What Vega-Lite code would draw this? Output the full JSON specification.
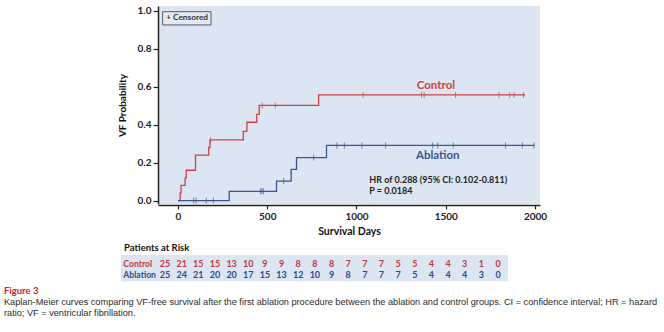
{
  "$schema": "https://vega.github.io/schema/vega-lite/v6.json",
  "padding": {"left": 3, "top": 5, "right": 0, "bottom": 0},
  "width": 382,
  "height": 198,
  "config": {"view": {"fill": "#dce6f2", "stroke": null}, "font": "Lato", "axis": {"labelOverlap": false, "labelFlush": false}},
  "datasets": {
    "km": [
      {"group": "Control", "day": 0, "p": 0},
      {"group": "Control", "day": 12, "p": 0.04},
      {"group": "Control", "day": 17, "p": 0.08},
      {"group": "Control", "day": 40, "p": 0.12},
      {"group": "Control", "day": 46, "p": 0.16},
      {"group": "Control", "day": 98, "p": 0.24},
      {"group": "Control", "day": 172, "p": 0.28},
      {"group": "Control", "day": 179, "p": 0.32},
      {"group": "Control", "day": 366, "p": 0.365},
      {"group": "Control", "day": 386, "p": 0.413},
      {"group": "Control", "day": 441, "p": 0.455},
      {"group": "Control", "day": 455, "p": 0.502},
      {"group": "Control", "day": 788, "p": 0.557},
      {"group": "Control", "day": 1945, "p": 0.557},
      {"group": "Ablation", "day": 0, "p": 0},
      {"group": "Ablation", "day": 287, "p": 0.049},
      {"group": "Ablation", "day": 552, "p": 0.103},
      {"group": "Ablation", "day": 634, "p": 0.165},
      {"group": "Ablation", "day": 664, "p": 0.227},
      {"group": "Ablation", "day": 832, "p": 0.291},
      {"group": "Ablation", "day": 1997, "p": 0.291}
    ],
    "censor": [
      {"group": "Control", "day": 183, "p": 0.32},
      {"group": "Control", "day": 472, "p": 0.502},
      {"group": "Control", "day": 545, "p": 0.502},
      {"group": "Control", "day": 1037, "p": 0.557},
      {"group": "Control", "day": 1364, "p": 0.557},
      {"group": "Control", "day": 1379, "p": 0.557},
      {"group": "Control", "day": 1555, "p": 0.557},
      {"group": "Control", "day": 1798, "p": 0.557},
      {"group": "Control", "day": 1858, "p": 0.557},
      {"group": "Control", "day": 1883, "p": 0.557},
      {"group": "Control", "day": 1935, "p": 0.557},
      {"group": "Ablation", "day": 88, "p": 0},
      {"group": "Ablation", "day": 101, "p": 0},
      {"group": "Ablation", "day": 158, "p": 0},
      {"group": "Ablation", "day": 198, "p": 0},
      {"group": "Ablation", "day": 462, "p": 0.049},
      {"group": "Ablation", "day": 470, "p": 0.049},
      {"group": "Ablation", "day": 478, "p": 0.049},
      {"group": "Ablation", "day": 592, "p": 0.103},
      {"group": "Ablation", "day": 760, "p": 0.227},
      {"group": "Ablation", "day": 890, "p": 0.291},
      {"group": "Ablation", "day": 932, "p": 0.291},
      {"group": "Ablation", "day": 1030, "p": 0.291},
      {"group": "Ablation", "day": 1163, "p": 0.291},
      {"group": "Ablation", "day": 1427, "p": 0.291},
      {"group": "Ablation", "day": 1455, "p": 0.291},
      {"group": "Ablation", "day": 1542, "p": 0.291},
      {"group": "Ablation", "day": 1835, "p": 0.291},
      {"group": "Ablation", "day": 1929, "p": 0.291},
      {"group": "Ablation", "day": 1994, "p": 0.291}
    ],
    "risk": [
      {"group": "Control", "day": 0, "n": 25}, {"group": "Control", "day": 100, "n": 21},
      {"group": "Control", "day": 200, "n": 15}, {"group": "Control", "day": 300, "n": 15},
      {"group": "Control", "day": 400, "n": 13}, {"group": "Control", "day": 500, "n": 10},
      {"group": "Control", "day": 600, "n": 9}, {"group": "Control", "day": 700, "n": 9},
      {"group": "Control", "day": 800, "n": 8}, {"group": "Control", "day": 900, "n": 8},
      {"group": "Control", "day": 1000, "n": 8}, {"group": "Control", "day": 1100, "n": 7},
      {"group": "Control", "day": 1200, "n": 7}, {"group": "Control", "day": 1300, "n": 7},
      {"group": "Control", "day": 1400, "n": 5}, {"group": "Control", "day": 1500, "n": 5},
      {"group": "Control", "day": 1600, "n": 4}, {"group": "Control", "day": 1700, "n": 4},
      {"group": "Control", "day": 1800, "n": 3}, {"group": "Control", "day": 1900, "n": 1},
      {"group": "Control", "day": 2000, "n": 0},
      {"group": "Ablation", "day": 0, "n": 25}, {"group": "Ablation", "day": 100, "n": 24},
      {"group": "Ablation", "day": 200, "n": 21}, {"group": "Ablation", "day": 300, "n": 20},
      {"group": "Ablation", "day": 400, "n": 20}, {"group": "Ablation", "day": 500, "n": 17},
      {"group": "Ablation", "day": 600, "n": 15}, {"group": "Ablation", "day": 700, "n": 13},
      {"group": "Ablation", "day": 800, "n": 12}, {"group": "Ablation", "day": 900, "n": 10},
      {"group": "Ablation", "day": 1000, "n": 9}, {"group": "Ablation", "day": 1100, "n": 8},
      {"group": "Ablation", "day": 1200, "n": 7}, {"group": "Ablation", "day": 1300, "n": 7},
      {"group": "Ablation", "day": 1400, "n": 7}, {"group": "Ablation", "day": 1500, "n": 5},
      {"group": "Ablation", "day": 1600, "n": 4}, {"group": "Ablation", "day": 1700, "n": 4},
      {"group": "Ablation", "day": 1800, "n": 4}, {"group": "Ablation", "day": 1900, "n": 3},
      {"group": "Ablation", "day": 2000, "n": 0}
    ],
    "one": [{"k": 1}]
  },
  "layer": [
    {
      "layer": [
        {
          "data": {"name": "one"},
          "mark": {"type": "rect", "fill": "#e2eaf4", "stroke": "#5a5a5a", "strokeWidth": 1},
          "encoding": {
            "x": {"datum": -86, "type": "quantitative", "scale": {"domain": [-112, 2028], "nice": false, "zero": false}},
            "x2": {"datum": 185},
            "y": {"datum": 0.996, "type": "quantitative", "scale": {"domain": [-0.018, 1.026], "nice": false, "zero": false}},
            "y2": {"datum": 0.926}
          }
        },
        {
          "data": {"name": "one"},
          "mark": {"type": "text", "text": "+ Censored", "align": "left", "baseline": "middle", "fontSize": 8.3, "fontWeight": "bold", "color": "#333"},
          "encoding": {
            "x": {"datum": -66, "type": "quantitative", "scale": {"domain": [-112, 2028], "nice": false, "zero": false}},
            "y": {"datum": 0.961, "type": "quantitative", "scale": {"domain": [-0.018, 1.026], "nice": false, "zero": false}}
          }
        },
        {
          "data": {"name": "km"},
          "mark": {"type": "line", "interpolate": "step-after", "strokeWidth": 1.3},
          "encoding": {
            "x": {
              "field": "day", "type": "quantitative",
              "scale": {"domain": [-112, 2028], "nice": false, "zero": false},
              "axis": {
                "values": [0, 500, 1000, 1500, 2000], "format": "d", "title": "Survival Days", "grid": false,
                "domainColor": "#222", "domainWidth": 1.5, "tickColor": "#222", "tickSize": 4, "tickWidth": 1.2,
                "labelFontWeight": "bold", "labelFontSize": 10, "labelColor": "#222", "labelPadding": 2,
                "titleFontSize": 10.5, "titleFontWeight": "bold", "titleColor": "#111", "titlePadding": 5, "offset": 1
              }
            },
            "y": {
              "field": "p", "type": "quantitative",
              "scale": {"domain": [-0.018, 1.026], "nice": false, "zero": false},
              "axis": {
                "values": [0, 0.2, 0.4, 0.6, 0.8, 1.0], "tickCount": 6, "format": ".1f", "title": "VF Probability", "grid": false,
                "domainColor": "#222", "domainWidth": 1.5, "tickColor": "#222", "tickSize": 5, "tickWidth": 1.2,
                "labelFontWeight": "bold", "labelFontSize": 10, "labelColor": "#222", "labelPadding": 2,
                "titleFontSize": 10, "titleFontWeight": "bold", "titleColor": "#111", "titlePadding": 10
              }
            },
            "color": {"field": "group", "type": "nominal", "scale": {"domain": ["Control", "Ablation"], "range": ["#cf4043", "#3a5592"]}, "legend": null}
          }
        },
        {
          "data": {"name": "censor"},
          "mark": {"type": "tick", "orient": "vertical", "size": 6, "thickness": 1},
          "encoding": {
            "x": {"field": "day", "type": "quantitative", "scale": {"domain": [-112, 2028], "nice": false, "zero": false}},
            "y": {"field": "p", "type": "quantitative", "scale": {"domain": [-0.018, 1.026], "nice": false, "zero": false}},
            "color": {"field": "group", "type": "nominal", "legend": null}
          }
        },
        {
          "data": {"values": [
            {"label": "Control", "day": 1445, "p": 0.604},
            {"label": "Ablation", "day": 1455, "p": 0.236}
          ]},
          "mark": {"type": "text", "fontSize": 11.5, "fontWeight": "bold", "baseline": "middle"},
          "encoding": {
            "x": {"field": "day", "type": "quantitative", "scale": {"domain": [-112, 2028], "nice": false, "zero": false}},
            "y": {"field": "p", "type": "quantitative", "scale": {"domain": [-0.018, 1.026], "nice": false, "zero": false}},
            "text": {"field": "label"},
            "color": {"field": "label", "type": "nominal", "legend": null}
          }
        },
        {
          "data": {"values": [
            {"label": "HR of 0.288 (95% CI: 0.102-0.811)", "day": 1072, "p": 0.106},
            {"label": "P = 0.0184", "day": 1072, "p": 0.053}
          ]},
          "mark": {"type": "text", "fontSize": 9, "fontWeight": "bold", "align": "left", "baseline": "middle", "color": "#222"},
          "encoding": {
            "x": {"field": "day", "type": "quantitative", "scale": {"domain": [-112, 2028], "nice": false, "zero": false}},
            "y": {"field": "p", "type": "quantitative", "scale": {"domain": [-0.018, 1.026], "nice": false, "zero": false}},
            "text": {"field": "label"}
          }
        }
      ]
    },
    {
      "layer": [
        {
          "data": {"name": "one"},
          "mark": {"type": "rect", "fill": "#dce6f2"},
          "encoding": {
            "x": {"datum": -264, "type": "quantitative", "scale": {"domain": [-42, 2252], "nice": false, "zero": false}, "axis": null},
            "x2": {"datum": 2060},
            "y": {
              "datum": -0.287, "type": "quantitative",
              "scale": {"domain": [-0.018, 1.026], "nice": false, "zero": false},
              "axis": {
                "values": [0, 0.2, 0.4, 0.6, 0.8, 1.0], "tickCount": 6, "format": ".1f", "title": "VF Probability", "grid": false,
                "domainColor": "#222", "domainWidth": 1.5, "tickColor": "#222", "tickSize": 5, "tickWidth": 1.2,
                "labelFontWeight": "bold", "labelFontSize": 10, "labelColor": "#222", "labelPadding": 2,
                "titleFontSize": 10, "titleFontWeight": "bold", "titleColor": "#111", "titlePadding": 10
              }
            },
            "y2": {"datum": -0.425}
          }
        },
        {
          "data": {"name": "one"},
          "mark": {"type": "text", "text": "Patients at Risk", "align": "left", "baseline": "middle", "fontSize": 9.5, "fontWeight": "bold", "color": "#111"},
          "encoding": {
            "x": {"datum": -246, "type": "quantitative", "scale": {"domain": [-42, 2252], "nice": false, "zero": false}, "axis": null},
            "y": {"datum": -0.25, "type": "quantitative"}
          }
        },
        {
          "data": {"name": "one"},
          "mark": {"type": "text", "text": "Control", "align": "left", "baseline": "middle", "fontSize": 8.6, "fontWeight": "bold", "color": "#c0393b"},
          "encoding": {
            "x": {"datum": -250, "type": "quantitative", "scale": {"domain": [-42, 2252], "nice": false, "zero": false}, "axis": null},
            "y": {"datum": -0.334, "type": "quantitative"}
          }
        },
        {
          "data": {"name": "one"},
          "mark": {"type": "text", "text": "Ablation", "align": "left", "baseline": "middle", "fontSize": 8.6, "fontWeight": "bold", "color": "#2f4b8a"},
          "encoding": {
            "x": {"datum": -250, "type": "quantitative", "scale": {"domain": [-42, 2252], "nice": false, "zero": false}, "axis": null},
            "y": {"datum": -0.393, "type": "quantitative"}
          }
        },
        {
          "data": {"name": "risk"},
          "transform": [{"filter": "datum.group === 'Control'"}],
          "mark": {"type": "text", "align": "center", "baseline": "middle", "fontSize": 9, "fontWeight": "bold", "color": "#c0393b"},
          "encoding": {
            "x": {"field": "day", "type": "quantitative", "scale": {"domain": [-42, 2252], "nice": false, "zero": false}, "axis": null},
            "y": {"datum": -0.334, "type": "quantitative"},
            "text": {"field": "n"}
          }
        },
        {
          "data": {"name": "risk"},
          "transform": [{"filter": "datum.group === 'Ablation'"}],
          "mark": {"type": "text", "align": "center", "baseline": "middle", "fontSize": 9, "fontWeight": "bold", "color": "#2f4b8a"},
          "encoding": {
            "x": {"field": "day", "type": "quantitative", "scale": {"domain": [-42, 2252], "nice": false, "zero": false}, "axis": null},
            "y": {"datum": -0.393, "type": "quantitative"},
            "text": {"field": "n"}
          }
        },
        {
          "data": {"name": "one"},
          "mark": {"type": "text", "text": "Figure 3", "align": "left", "baseline": "middle", "fontSize": 9.5, "fontWeight": "bold", "color": "#c8202f"},
          "encoding": {
            "x": {"datum": -967, "type": "quantitative", "scale": {"domain": [-42, 2252], "nice": false, "zero": false}, "axis": null},
            "y": {"datum": -0.475, "type": "quantitative"}
          }
        },
        {
          "data": {"values": [
            {"line": "Kaplan-Meier curves comparing VF-free survival after the first ablation procedure between the ablation and control groups. CI = confidence interval; HR = hazard", "p": -0.533},
            {"line": "ratio; VF = ventricular fibrillation.", "p": -0.591}
          ]},
          "mark": {"type": "text", "align": "left", "baseline": "middle", "fontSize": 9.2, "font": "Liberation Sans", "color": "#2a2a2a"},
          "encoding": {
            "x": {"datum": -967, "type": "quantitative", "scale": {"domain": [-42, 2252], "nice": false, "zero": false}, "axis": null},
            "y": {"field": "p", "type": "quantitative"},
            "text": {"field": "line"}
          }
        }
      ]
    }
  ],
  "resolve": {"scale": {"x": "independent"}, "axis": {"x": "independent"}}
}
